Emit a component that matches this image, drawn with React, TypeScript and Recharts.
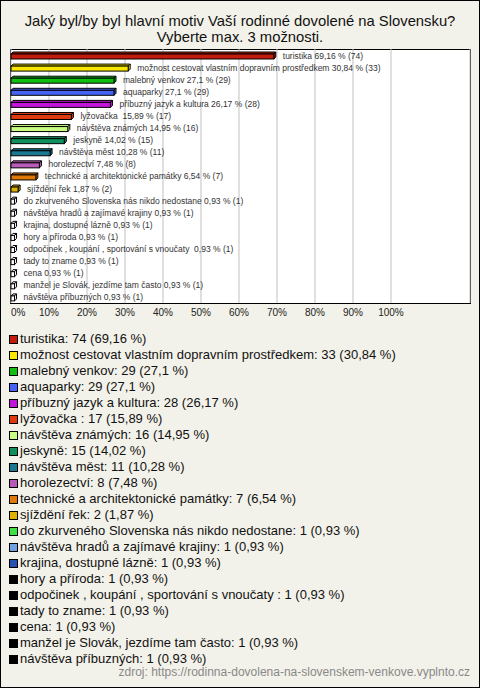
import { BarChart, Bar, XAxis, YAxis, CartesianGrid, Cell, LabelList } from "recharts";

const labels = [
  "turistika",
  "možnost cestovat vlastním dopravním prostředkem",
  "malebný venkov",
  "aquaparky",
  "příbuzný jazyk a kultura",
  "lyžovačka ",
  "návštěva známých",
  "jeskyně",
  "návštěva měst",
  "horolezectví",
  "technické a architektonické památky",
  "sjíždění řek",
  "do zkurveného Slovenska nás nikdo nedostane",
  "návštěva hradů a zajímavé krajiny",
  "krajina, dostupné lázně",
  "hory a příroda",
  "odpočinek , koupání , sportování s vnoučaty ",
  "tady to zname",
  "cena",
  "manžel je Slovák, jezdíme tam často",
  "návštěva příbuzných",
];
const counts = [74, 33, 29, 29, 28, 17, 16, 15, 11, 8, 7, 2, 1, 1, 1, 1, 1, 1, 1, 1, 1];
const percents = [
  69.16, 30.84, 27.1, 27.1, 26.17, 15.89, 14.95, 14.02, 10.28, 7.48, 6.54, 1.87,
  0.93, 0.93, 0.93, 0.93, 0.93, 0.93, 0.93, 0.93, 0.93,
];
const colors = [
  "#c41c0c", "#f8e800", "#10c010", "#4462f4", "#c414dc", "#e03a10", "#c8fc80",
  "#10905c", "#1a7890", "#b85ab8", "#e07808", "#e0b000", "#40e040", "#70a0e0",
  "#2850b0", "#000000", "#000000", "#000000", "#000000", "#000000", "#000000",
];
const xTicks = [0, 10, 20, 30, 40, 50, 60, 70, 80, 90, 100];

const fmt = (v: number) => String(v).replace(".", ",");
const data = labels.map((name, i) => ({ name, pct: percents[i] }));

const FONT = '"Liberation Sans", Arial, sans-serif';

// 3D-ish bar: front face plus a thin top and right face
const Bar3D = (props: any) => {
  const { x, y, width, height, fill } = props;
  if (width == null) return null;
  const d = 2;
  const fy = y + d;
  const r = x + width;
  // very thin bars show up as white outlined boxes in the original
  const c = width < 5 ? "#fff" : fill;
  return (
    <g stroke="#000" strokeWidth={1}>
      <polygon points={`${x},${fy} ${x + d},${y} ${r + d},${y} ${r},${fy}`} fill={c} />
      <polygon points={`${r},${fy} ${r + d},${y} ${r + d},${y + height - d} ${r},${y + height}`} fill={c} />
      <rect x={x} y={fy} width={width} height={height - d} fill={c} />
    </g>
  );
};

const BarLabel = (props: any) => {
  const { x, y, width, height, index } = props;
  return (
    <text
      x={x + width + 9}
      y={y + height / 2 + 3}
      fontSize={8.5}
      fill="#333"
      fontFamily={FONT}
      style={{ whiteSpace: "pre" }}
    >
      {`${labels[index]} ${fmt(percents[index])} % (${counts[index]})`}
    </text>
  );
};

const XTick = (props: any) => {
  const { x, y, payload } = props;
  const first = payload.value === 0;
  return (
    <text x={x} y={y + 5} textAnchor={first ? "start" : "middle"} fontSize={10} fill="#222" fontFamily={FONT}>
      {`${payload.value}%`}
    </text>
  );
};

export default function App() {
  return (
    <div
      style={{
        position: "fixed",
        left: 0,
        top: 0,
        width: 480,
        height: 688,
        boxSizing: "border-box",
        border: "1px solid #000",
        background: "#f3f2ea",
        fontFamily: FONT,
        overflow: "hidden",
      }}
    >
      <div
        style={{
          position: "absolute",
          top: 12,
          left: 0,
          width: 478,
          textAlign: "center",
          fontSize: 14.8,
          lineHeight: "16px",
          color: "#111",
        }}
      >
        Jaký byl/by byl hlavní motiv Vaší rodinné dovolené na Slovensku?
        <br />
        Vyberte max. 3 možnosti.
      </div>
      <div
        style={{
          position: "absolute",
          left: 9,
          top: 48,
          width: 461,
          height: 255,
          boxSizing: "border-box",
          border: "1px solid #000",
          background: "#fff",
        }}
      />
      <div style={{ position: "absolute", left: -1, top: -1 }}>
        <BarChart
          width={480}
          height={330}
          data={data}
          layout="vertical"
          margin={{ top: 49, right: 10, left: 11, bottom: 7 }}
        >
          <CartesianGrid horizontal={false} stroke="#c0c0c0" />
          <XAxis
            type="number"
            dataKey="pct"
            domain={[0, 120.8]}
            ticks={xTicks}
            axisLine={false}
            tickLine={false}
            height={20}
            tick={<XTick />}
          />
          <YAxis type="category" dataKey="name" hide width={0} />
          <Bar dataKey="pct" barSize={7} shape={<Bar3D />} isAnimationActive={false}>
            {data.map((_, i) => (
              <Cell key={i} fill={colors[i]} />
            ))}
            <LabelList dataKey="pct" content={<BarLabel />} />
          </Bar>
        </BarChart>
      </div>
      <div style={{ position: "absolute", left: 8, top: 330 }}>
        {labels.map((name, i) => (
          <div
            key={i}
            style={{
              height: 16,
              lineHeight: "16px",
              fontSize: 13,
              color: "#111",
              whiteSpace: "pre",
              display: "flex",
              alignItems: "center",
            }}
          >
            <span
              style={{
                display: "inline-block",
                width: 9,
                height: 9,
                boxSizing: "border-box",
                border: "1px solid #000",
                background: colors[i],
                marginRight: 2,
              }}
            />
            {`${name}: ${counts[i]} (${fmt(percents[i])} %)`}
          </div>
        ))}
      </div>
      <div
        style={{
          position: "absolute",
          right: 9,
          top: 663,
          fontSize: 12,
          color: "#888",
          lineHeight: "16px",
        }}
      >
        zdroj: https://rodinna-dovolena-na-slovenskem-venkove.vyplnto.cz
      </div>
    </div>
  );
}
